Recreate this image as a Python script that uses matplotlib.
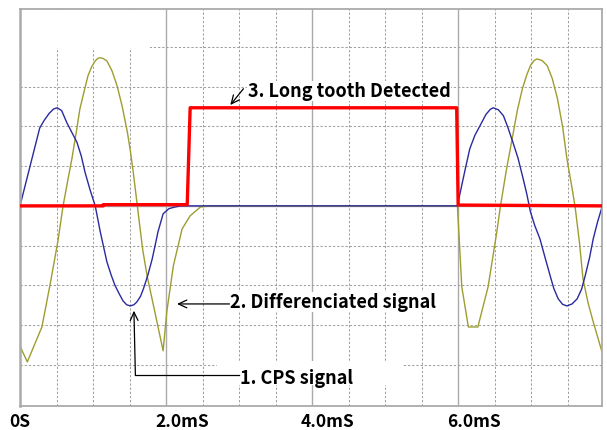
import matplotlib
matplotlib.use("Agg")
import matplotlib.pyplot as plt
from matplotlib.patches import Rectangle
from matplotlib.transforms import ScaledTranslation

# ====== scope capture, values (time in mS, amplitude in divisions) ======
CPS_T = [0.0, 0.27, 0.33, 0.40, 0.46, 0.51, 0.57, 0.64, 0.71, 0.78, 0.84, 0.89, 0.96, 1.03,
         1.10, 1.19, 1.25, 1.30, 1.36, 1.41, 1.46, 1.51, 1.56, 1.60, 1.65, 1.69, 1.75, 1.81,
         1.85, 1.89, 1.96, 2.04, 2.12, 2.20, 5.99, 6.03, 6.10, 6.16, 6.23, 6.30, 6.38, 6.44,
         6.48, 6.55, 6.62, 6.68, 6.75, 6.82, 6.88, 6.94, 6.99, 7.05, 7.12, 7.19, 7.26, 7.31,
         7.37, 7.43, 7.49, 7.56, 7.63, 7.69, 7.74, 7.80, 7.85, 7.91, 7.97]
CPS_V = [0.0, 1.96, 2.15, 2.33, 2.44, 2.47, 2.40, 2.10, 1.85, 1.60, 1.25, 0.85, 0.40, 0.0,
         -0.66, -1.41, -1.75, -2.00, -2.22, -2.39, -2.49, -2.52, -2.49, -2.42, -2.28, -2.09, -1.75, -1.34,
         -1.00, -0.65, -0.20, -0.07, -0.03, 0.0, 0.0, 0.35, 0.95, 1.44, 1.78, 2.02, 2.30, 2.43,
         2.47, 2.42, 2.27, 1.98, 1.60, 1.20, 0.76, 0.30, -0.15, -0.50, -0.83, -1.30, -1.76, -2.08,
         -2.34, -2.48, -2.52, -2.47, -2.34, -2.10, -1.76, -1.30, -0.83, -0.40, -0.03]

DIFF_T = [0.0, 0.10, 0.30, 0.41, 0.52, 0.59, 0.65, 0.71, 0.77, 0.82, 0.88, 0.93, 0.98, 1.03,
          1.07, 1.10, 1.14, 1.19, 1.26, 1.33, 1.40, 1.47, 1.51, 1.55, 1.62, 1.68, 1.74, 1.85,
          1.96, 2.01, 2.10, 2.22, 2.33, 2.47, 2.60, 5.99, 6.05, 6.14, 6.27, 6.41, 6.53, 6.58,
          6.66, 6.74, 6.81, 6.88, 6.94, 6.99, 7.04, 7.08, 7.15, 7.22, 7.29, 7.36, 7.43, 7.49,
          7.55, 7.60, 7.66, 7.71, 7.78, 7.85, 7.97]
DIFF_V = [-3.53, -3.93, -3.05, -2.00, -0.88, 0.0, 0.60, 1.18, 1.85, 2.44, 2.90, 3.27, 3.50, 3.65,
          3.72, 3.73, 3.71, 3.65, 3.40, 3.02, 2.50, 1.86, 1.40, 0.86, -0.20, -1.10, -1.76, -2.70,
          -3.65, -2.67, -1.51, -0.58, -0.25, -0.03, 0.0, 0.0, -2.04, -3.05, -3.05, -2.04, -0.65, 0.0,
          0.90, 1.69, 2.40, 2.95, 3.30, 3.53, 3.66, 3.70, 3.66, 3.53, 3.20, 2.70, 2.00, 1.18,
          0.55, 0.0, -0.90, -1.84, -2.45, -2.92, -3.68]

DET_T = [0.0, 1.14, 1.14, 2.29, 2.33, 5.98, 6.00, 7.97]
DET_V = [0.0, 0.0, 0.03, 0.03, 2.47, 2.47, 0.02, 0.0]

TICK_POS = [0, 2, 4, 6]
TICK_LABELS = ["0S", "2.0mS", "4.0mS", "6.0mS"]

LABEL_CPS = "1. CPS signal"
LABEL_DIFF = "2. Differenciated signal"
LABEL_DET = "3. Long tooth Detected"

GRID_C = "#a0a0a0"
FRAME_C = "#aaaaaa"
FONT = ["Noto Sans CJK KR", "DejaVu Sans"]


def draw_grid(ax):
    # dashed 0.5mS / 1 div grid, solid lines at the 2mS marks and the zero level
    dash = (0, (2.2, 1.8))
    t = 0.5
    while t < 7.9:
        if abs(t - round(t / 2) * 2) < 1e-6:
            ax.axvline(t, color=FRAME_C, lw=1.0, zorder=1)
        else:
            ax.axvline(t, color=GRID_C, lw=0.75, ls=dash, zorder=1)
        t += 0.5
    for v in range(-4, 5):
        if v == 0:
            ax.axhline(v, color=FRAME_C, lw=1.0, zorder=1)
        else:
            ax.axhline(v, color=GRID_C, lw=0.75, ls=dash, zorder=1)

    # blank patches the scope software left on the screen
    ax.add_patch(Rectangle((0.0, 3.98), 1.78, 0.95, fc="white", ec="none", zorder=1.5))
    ax.add_patch(Rectangle((2.70, -4.51), 2.55, 0.61, fc="white", ec="none", zorder=1.5))


def main():
    fig = plt.figure(figsize=(6.07, 4.31), dpi=100)
    ax = fig.add_axes([20 / 607, 24 / 431, 582 / 607, 397.5 / 431])
    ax.set_xlim(0, 7.97)
    ax.set_ylim(-5.04, 4.97)

    for side in ["left", "right", "top", "bottom"]:
        ax.spines[side].set_color(FRAME_C)
        ax.spines[side].set_linewidth(1.3)
    ax.spines["left"].set_linewidth(1.8)

    ax.set_yticks([])
    ax.set_xticks(TICK_POS)
    ax.set_xticklabels(TICK_LABELS, fontsize=12.5, fontweight="bold", family=FONT, ha="left")
    ax.tick_params(axis="x", length=0, pad=4)
    # labels on the scope start a bit left of their division line
    shift = ScaledTranslation(-11 / 100, 0, fig.dpi_scale_trans)
    for lbl in ax.get_xticklabels():
        lbl.set_transform(lbl.get_transform() + shift)

    draw_grid(ax)

    ax.plot(DIFF_T, DIFF_V, color="#9d9d30", lw=1.0, zorder=2)
    ax.plot(CPS_T, CPS_V, color="#2a2a9e", lw=1.0, zorder=2.5)
    ax.plot(DET_T, DET_V, color="#ff0000", lw=2.4, zorder=3)

    arrow = dict(arrowstyle="->,head_length=0.6,head_width=0.28", color="black", lw=0.9,
                 shrinkA=0, shrinkB=0, mutation_scale=10)
    txt = dict(fontsize=13, fontweight="bold", family=FONT, va="center", ha="left", zorder=4)

    # 3. long tooth
    ax.annotate("", xy=(2.88, 2.54), xytext=(3.06, 2.95), arrowprops=arrow, zorder=4)
    ax.text(3.12, 2.90, LABEL_DET, bbox=dict(fc="white", ec="none", pad=0.3), **txt)

    # 2. differentiated
    ax.annotate("", xy=(2.15, -2.47), xytext=(2.87, -2.47), arrowprops=arrow, zorder=4)
    ax.text(2.88, -2.42, LABEL_DIFF, bbox=dict(fc="white", ec="none", pad=0.3), **txt)

    # 1. CPS, elbow leader
    ax.plot([1.58, 3.0], [-4.26, -4.26], color="black", lw=0.9, zorder=4)
    ax.annotate("", xy=(1.56, -2.64), xytext=(1.58, -4.26), arrowprops=arrow, zorder=4)
    ax.text(3.01, -4.31, LABEL_CPS, **txt)

    fig.savefig("out.png", dpi=100)


if __name__ == "__main__":
    main()
